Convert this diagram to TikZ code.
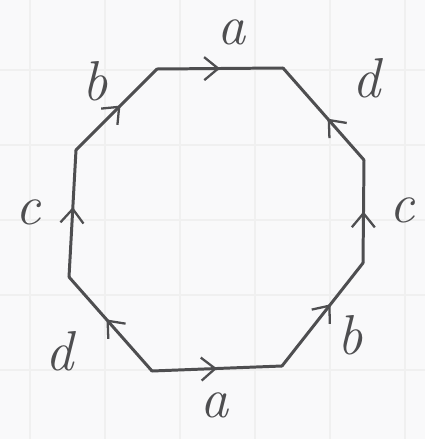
\documentclass[tikz,border=0pt]{standalone}
\usepackage{xcolor}
\usepackage{tikz}
\usetikzlibrary{arrows.meta,decorations.markings}

\definecolor{pencil}{RGB}{78,78,80}
\definecolor{paper}{RGB}{249,249,250}

\tikzset{
  side/.style={pencil, line width=1.7pt, line cap=round, line join=round},
  midarrow/.style={postaction={decorate, decoration={markings,
      mark=at position #1 with {\arrow{Straight Barb[length=2.8mm, width=4.6mm, line width=1.3pt]}}}}},
  lbl/.style={pencil, inner sep=0pt, font=\fontsize{32}{36}\selectfont\itshape}
}

\begin{document}
\begin{tikzpicture}[x=0.02cm, y=-0.02cm]
\useasboundingbox (0,0) rectangle (425,439);
\fill[paper] (0,0) rectangle (425,439);

% graph paper
\foreach \gx in {30,105,...,405}
  \draw[black!6, line width=0.8pt] (\gx,0) -- (\gx,439);
\foreach \gy in {70,145,...,439}
  \draw[black!6, line width=0.8pt] (0,\gy) -- (425,\gy);

% corners of the octagon
\coordinate (tl) at (157,69);
\coordinate (tr) at (283,68);
\coordinate (rt) at (364,160);
\coordinate (rb) at (363,263);
\coordinate (br) at (282,366);
\coordinate (bl) at (152,371);
\coordinate (lb) at (69,277);
\coordinate (lt) at (76,150);

% sides, each with its direction
\draw[side, midarrow=0.55] (lt) -- (tl);
\draw[side, midarrow=0.5] (tl) -- (tr);
\draw[side, midarrow=0.45] (rt) -- (tr);
\draw[side, midarrow=0.5] (rb) -- (rt);
\draw[side, midarrow=0.6] (br) -- (rb);
\draw[side, midarrow=0.5] (bl) -- (br);
\draw[side, midarrow=0.55] (bl) -- (lb);
\draw[side, midarrow=0.55] (lb) -- (lt);

% labels
\node[lbl] (la1) at (232,32) {a};
\node[lbl] (ld1) at (367,78) {d};
\node[lbl] (lc1) at (402,210) {c};
\node[lbl] (lb1) at (350,335) {b};
\node[lbl] (la2) at (215,405) {a};
\node[lbl] (ld2) at (60,351) {d};
\node[lbl] (lc2) at (28,212) {c};
\node[lbl] (lb2) at (95,81) {b};

\end{tikzpicture}
\end{document}
